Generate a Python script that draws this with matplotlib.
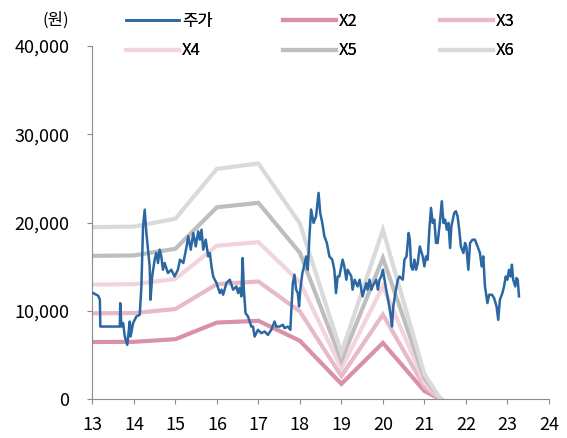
import numpy as np
import matplotlib
matplotlib.use("Agg")
import matplotlib.pyplot as plt

plt.rcParams['font.family'] = ['Noto Sans CJK KR', 'DejaVu Sans']

# band vertices: year-end EPS (won)
band_years = [13, 14, 15, 16, 17, 18, 19, 20, 21, 22]
eps = [3250, 3260, 3410, 4350, 4450, 3320, 880, 3200, 480, -720]
multiples = [2, 3, 4, 5, 6]
band_colors = ['#D891A7', '#E8B9C8', '#F2D4DD', '#BEBEBE', '#DADADA']

# stock price (won)
price_years = [
    13.02, 13.14, 13.18, 13.19, 13.66, 13.67, 13.70, 13.74, 13.78, 13.84,
    13.90, 13.92, 13.98, 14.06, 14.14, 14.18, 14.22, 14.26, 14.30, 14.34,
    14.38, 14.40, 14.44, 14.50, 14.54, 14.58, 14.62, 14.66, 14.70, 14.74,
    14.82, 14.90, 14.98, 15.06,
    15.11, 15.19, 15.27, 15.31, 15.37, 15.43, 15.49, 15.55, 15.59, 15.63,
    15.67, 15.73, 15.79, 15.83, 15.87, 15.91, 15.99, 16.07, 16.11, 16.15,
    16.23, 16.31, 16.39, 16.47, 16.51, 16.55, 16.59, 16.62, 16.65, 16.69,
    16.75, 16.83,
    16.87, 16.91, 16.99, 17.07, 17.15, 17.23, 17.31, 17.39, 17.43, 17.51,
    17.59, 17.63, 17.71, 17.77, 17.79, 17.83, 17.87, 17.91, 17.95, 17.98,
    18.01, 18.06, 18.10, 18.15, 18.19, 18.23, 18.27, 18.33, 18.39, 18.45,
    18.49, 18.54, 18.59, 18.65, 18.71, 18.78, 18.83, 18.87, 18.91,
    18.95, 19.03, 19.07, 19.12, 19.15, 19.24, 19.27, 19.32, 19.39, 19.44,
    19.48, 19.51, 19.60, 19.63, 19.68, 19.72, 19.75, 19.84, 19.88, 19.92,
    19.96, 20.00, 20.04, 20.08, 20.14, 20.18, 20.22, 20.25, 20.30, 20.36,
    20.40, 20.48, 20.52, 20.57, 20.62, 20.65,
    20.68, 20.72, 20.76, 20.80, 20.84, 20.89, 20.96, 21.00, 21.04, 21.08,
    21.12, 21.16, 21.20, 21.24, 21.28, 21.32, 21.38, 21.42, 21.46, 21.50,
    21.54, 21.58, 21.62, 21.65, 21.72, 21.76, 21.80, 21.84, 21.88, 21.94,
    21.98, 22.01, 22.06, 22.10, 22.16, 22.22, 22.28, 22.34, 22.38, 22.42,
    22.46, 22.52, 22.56, 22.63, 22.68, 22.74, 22.78, 22.82, 22.88, 22.92,
    22.96, 23.00, 23.04, 23.08, 23.11, 23.14, 23.19, 23.22, 23.25, 23.28,
]
price = [
    12040, 11730, 11280, 8250, 8250, 10900, 8250, 8640, 7120, 6180,
    8820, 7120, 8640, 9390, 9580, 12790, 19590, 21480, 18840, 16950,
    15060, 11280, 13920, 15820, 16580, 15440, 16950, 16190, 14680, 15440,
    14310, 14680, 13920, 14680,
    15820, 15440, 17320, 18460, 16950, 18840, 17320, 19020, 18080, 19220,
    16950, 18080, 16190, 16580, 15060, 13920, 13170, 12040, 12420, 11850,
    13170, 13550, 12420, 12790, 12040, 12610, 11660, 16010, 12420, 9770,
    9390, 8250,
    8250, 7120, 7880, 7500, 7690, 7310, 7880, 8820, 8250, 8250,
    8450, 8070, 8250, 7880, 9770, 13170, 14120, 12420, 12040, 10520,
    12420, 14310, 15060, 16190, 14680, 18460, 21490, 19980, 20730, 23380,
    21110, 19980, 18460, 17710, 16190, 15820, 14680, 12040, 13920,
    13920, 15820, 15060, 13550, 14680, 13920, 12420, 13550, 12790, 13550,
    12420, 11660, 13170, 12420, 13550, 12420, 12790, 13550, 12420, 13550,
    13920, 14680, 13550, 12420, 10910, 9770, 8250, 10520, 12040, 13550,
    13920, 13550, 15820, 16190, 18840, 18080,
    15060, 14680, 15820, 14680, 15440, 17320, 16190, 15060, 16190, 15820,
    19220, 21680, 19980, 20350, 17710, 17710, 20350, 22430, 19980, 20350,
    19220, 19980, 17140, 19590, 21110, 21300, 20730, 19220, 17320, 16580,
    17710, 17320, 14680, 17710, 18080, 18080, 17320, 16580, 15060, 16190,
    12790, 10910, 11850, 11850, 11470, 10520, 9010, 11280, 12040, 12790,
    13920, 13550, 14680, 13920, 15250, 13550, 12790, 13740, 13550, 11660,
]

fig = plt.figure(figsize=(5.67, 4.38), dpi=100)
ax = fig.add_axes([0.163, 0.088, 0.805, 0.807])

line_price, = ax.plot(price_years, price, color='#2B67A3', lw=1.8, zorder=3)
band_lines = []
for m, c in zip(multiples, band_colors):
    ln, = ax.plot(band_years, np.array(eps) * m, color=c, lw=3.0,
                  solid_joinstyle='miter', zorder=2)
    band_lines.append(ln)

ax.set_xlim(13, 24)
ax.set_ylim(0, 40000)
ax.set_xticks(range(13, 25))
ax.set_xticklabels([str(y) for y in range(13, 25)])
ax.set_yticks(range(0, 40001, 10000))
ax.set_yticklabels(['0', '10,000', '20,000', '30,000', '40,000'])
for s in ['top', 'right']:
    ax.spines[s].set_visible(False)
for s in ['left', 'bottom']:
    ax.spines[s].set_color('#8C8C8C')
ax.tick_params(axis='both', colors='#8C8C8C', labelcolor='black',
               labelsize=13, length=3.6, direction='out')
ax.tick_params(axis='y', pad=13)
ax.tick_params(axis='x', pad=8)

fig.text(0.122, 0.953, '(원)', fontsize=12, ha='right', va='center')

labels = ['주가', 'X2', 'X3', 'X4', 'X5', 'X6']
handles = [line_price] + band_lines
# one two-row legend per column: 주가/X4, X2/X5, X3/X6
col_x = [0.222, 0.499, 0.776]
for k, x0 in enumerate(col_x):
    leg = fig.legend([handles[k], handles[k + 3]], [labels[k], labels[k + 3]],
                     loc='upper left', bbox_to_anchor=(x0, 0.971),
                     frameon=False, fontsize=12, handlelength=3.2,
                     handletextpad=0.15, labelspacing=0.76,
                     borderpad=0, borderaxespad=0)
    fig.add_artist(leg)

fig.savefig('out.png', dpi=100)
